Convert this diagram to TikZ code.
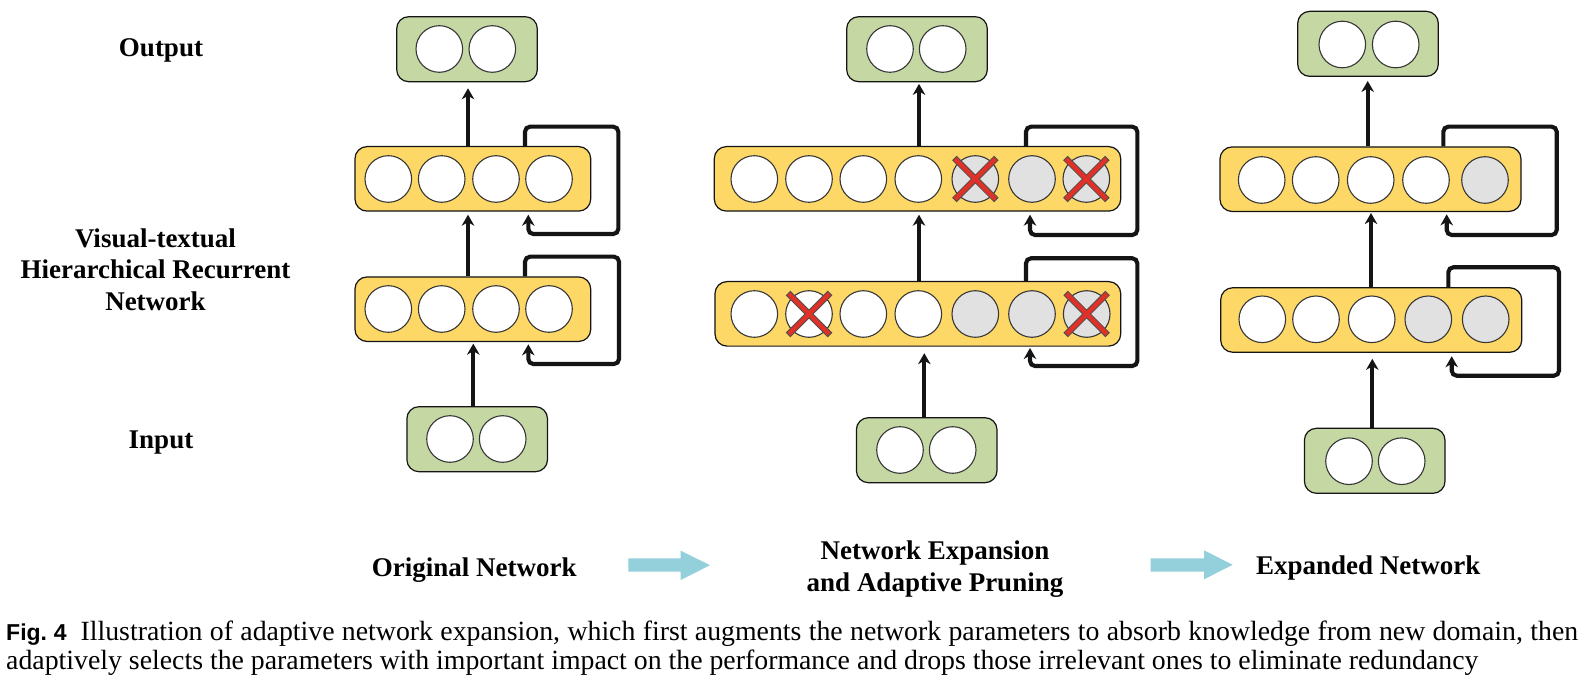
\documentclass[tikz,border=0pt]{standalone}
\usepackage{fontspec}
\setmainfont{Liberation Serif}
\newfontfamily\capsans{Liberation Sans}
\usetikzlibrary{arrows.meta,calc}
\definecolor{ylw}{HTML}{FDD866}
\definecolor{grn}{HTML}{C5D8A4}
\definecolor{gry}{HTML}{E1E1E1}
\definecolor{redx}{HTML}{E03128}
\definecolor{cyn}{HTML}{94CFDC}
\definecolor{ink}{HTML}{141414}
\tikzset{
  hbox/.style={draw=ink, line width=1.2pt, fill=ylw, rounded corners=12pt, minimum height=64.5pt, inner sep=0pt},
  gbox/.style={draw=ink, line width=1.2pt, fill=grn, rounded corners=12pt, minimum width=140.6pt, minimum height=65pt, inner sep=0pt},
  unit/.style={circle, draw=ink!85, line width=1.1pt, fill=white, minimum size=46.6pt, inner sep=0pt},
  unitg/.style={unit, fill=gry},
  flow/.style={draw=ink, line width=4.1pt, -{Stealth[length=11pt,width=12.5pt,inset=3.5pt]}},
  recur/.style={flow, rounded corners=5pt},
  lbl/.style={font=\bfseries\fontsize{27}{31}\selectfont, inner sep=0pt, anchor=base},
  capt/.style={font=\fontsize{27.8}{29}\selectfont, inner sep=0pt, anchor=base west},
  bigarrow/.style={fill=cyn, draw=none},
  xout/.style={line width=6.4pt, draw=ink!75},
  xin/.style={line width=4.4pt, draw=redx}
}
\newcommand{\prunemark}[1]{%
  \draw[xout] ($(#1)+(-21,-21)$) -- ($(#1)+(21,21)$) ($(#1)+(-21,21)$) -- ($(#1)+(21,-21)$);
  \draw[xin] ($(#1)+(-20.2,-20.2)$) -- ($(#1)+(20.2,20.2)$) ($(#1)+(-20.2,20.2)$) -- ($(#1)+(20.2,-20.2)$);}
\begin{document}
\begin{tikzpicture}[x=1pt,y=-1pt]
\useasboundingbox (0,0) rectangle (1581,700);
\fill[white] (0,0) rectangle (1581,700);

% ---------- side labels ----------
\node[lbl] (tout) at (161,57) {Output};
\node[lbl] (tvt1) at (155.5,248) {Visual-textual};
\node[lbl] (tvt2) at (155.5,279) {Hierarchical Recurrent};
\node[lbl] (tvt3) at (155.5,310.5) {Network};
\node[lbl] (tin) at (161,448.5) {Input};

% ---------- left: original network ----------
\node[gbox] (LO) at (467,49.2) {};
\foreach \x [count=\i] in {439.3,492.3} \node[unit] (LOc\i) at (\x,49) {};
\node[hbox, minimum width=235.7pt] (LT) at (472.85,178.85) {};
\foreach \x [count=\i] in {388.3,441.7,496,549} \node[unit] (LTc\i) at (\x,179) {};
\node[hbox, minimum width=235.7pt] (LB) at (472.85,309.2) {};
\foreach \x [count=\i] in {388.3,441.7,496,549} \node[unit] (LBc\i) at (\x,309) {};
\node[gbox] (LI) at (477.2,439.2) {};
\foreach \x [count=\i] in {450,502.7} \node[unit] (LIc\i) at (\x,439) {};

\draw[flow, shorten >=6pt] (468,0 |- LT.north) -- (468,0 |- LO.south);
\draw[flow, shorten >=3pt] (468,0 |- LB.north) -- (468,0 |- LT.south);
\draw[flow, shorten >=1.6pt] (473.3,0 |- LI.north) -- (473.3,0 |- LB.south);
\draw[recur, shorten >=3pt] (525,0 |- LT.north) -- (525,126.7) -- (618.3,126.7) -- (618.3,234) -- (528.3,234) -- (528.3,0 |- LT.south);
\draw[recur, shorten >=2.3pt] (525,0 |- LB.north) -- (525,256.7) -- (619,256.7) -- (619,364) -- (528.3,364) -- (528.3,0 |- LB.south);

% ---------- middle: expansion and pruning ----------
\node[gbox] (MO) at (917,49.2) {};
\foreach \x [count=\i] in {890,942.7} \node[unit] (MOc\i) at (\x,49) {};
\node[hbox, minimum width=406.4pt] (MT) at (917.5,178.85) {};
\foreach \x [count=\i] in {754.3,809,863.3,918.3} \node[unit] (MTc\i) at (\x,179) {};
\foreach \x [count=\i from 5] in {975.3,1032,1086.3} \node[unitg] (MTc\i) at (\x,179) {};
\node[hbox, minimum width=405.7pt] (MB) at (917.85,313.85) {};
\foreach \x [count=\i] in {754.3,809,863.3,918.3} \node[unit] (MBc\i) at (\x,314) {};
\foreach \x [count=\i from 5] in {975.3,1032,1086.7} \node[unitg] (MBc\i) at (\x,314) {};
\node[gbox] (MI) at (926.7,450.2) {};
\foreach \x [count=\i] in {900,952.7} \node[unit] (MIc\i) at (\x,450) {};

\prunemark{MTc5}
\prunemark{MTc7}
\prunemark{MBc2}
\prunemark{MBc7}

\draw[flow, shorten >=1.6pt] (919,0 |- MT.north) -- (919,0 |- MO.south);
\draw[flow, shorten >=3pt] (919,0 |- MB.north) -- (919,0 |- MT.south);
\draw[flow, shorten >=6.5pt] (924.3,0 |- MI.north) -- (924.3,0 |- MB.south);
\draw[recur, shorten >=3pt] (1026,0 |- MT.north) -- (1026,126.7) -- (1137.3,126.7) -- (1137.3,235) -- (1030,235) -- (1030,0 |- MT.south);
\draw[recur, shorten >=1.3pt] (1026,0 |- MB.north) -- (1026,258.3) -- (1137.3,258.3) -- (1137.3,366) -- (1030,366) -- (1030,0 |- MB.south);

% ---------- right: expanded network ----------
\node[gbox] (RO) at (1368,43.85) {};
\foreach \x [count=\i] in {1342.3,1395.7} \node[unit] (ROc\i) at (\x,44.5) {};
\node[hbox, minimum width=301pt] (RT) at (1370.5,179.2) {};
\foreach \x [count=\i] in {1261.7,1315.7,1370.7,1426} \node[unit] (RTc\i) at (\x,180) {};
\node[unitg] (RTc5) at (1485,180) {};
\node[hbox, minimum width=301pt] (RB) at (1371.2,320) {};
\foreach \x [count=\i] in {1262.3,1316,1371.7} \node[unit] (RBc\i) at (\x,319.3) {};
\foreach \x [count=\i from 4] in {1428.3,1485.7} \node[unitg] (RBc\i) at (\x,319.3) {};
\node[gbox] (RI) at (1374.7,460.8) {};
\foreach \x [count=\i] in {1349,1401.7} \node[unit] (RIc\i) at (\x,461.2) {};

\draw[flow, shorten >=4pt] (1367.7,0 |- RT.north) -- (1367.7,0 |- RO.south);
\draw[flow, shorten >=1pt] (1371,0 |- RB.north) -- (1371,0 |- RT.south);
\draw[flow, shorten >=6pt] (1372.3,0 |- RI.north) -- (1372.3,0 |- RB.south);
\draw[recur, shorten >=2.3pt] (1443.3,0 |- RT.north) -- (1443.3,126.7) -- (1556.7,126.7) -- (1556.7,235) -- (1446.7,235) -- (1446.7,0 |- RT.south);
\draw[recur, shorten >=3.4pt] (1448.3,0 |- RB.north) -- (1448.3,267.3) -- (1559,267.3) -- (1559,375.7) -- (1451.7,375.7) -- (1451.7,0 |- RB.south);

% ---------- stage labels and big arrows ----------
\node[lbl] (s1) at (474.2,576.7) {Original Network};
\node[lbl] (s2a) at (935,559) {Network Expansion};
\node[lbl] (s2b) at (935,591) {and Adaptive Pruning};
\node[lbl] (s3) at (1368.3,574.3) {Expanded Network};
\fill[bigarrow] (628.3,558.3) -- (680.7,558.3) -- (680.7,550.7) -- (710,565.2) -- (680.7,580) -- (680.7,571.7) -- (628.3,571.7) -- cycle;
\fill[bigarrow] (1150.7,558.3) -- (1204,558.3) -- (1204,550.3) -- (1232.7,564.8) -- (1204,579.3) -- (1204,571.7) -- (1150.7,571.7) -- cycle;

% ---------- caption ----------
\node[capt] (cap1) at (6,640) {\makebox[1572pt][s]{{\capsans\bfseries\fontsize{23}{29}\selectfont Fig.~4}\hspace{14pt}Illustration of adaptive network expansion, which first augments the network parameters to absorb knowledge from new domain, then}};
\node[capt] (cap2) at (6,669) {adaptively selects the parameters with important impact on the performance and drops those irrelevant ones to eliminate redundancy};
\end{tikzpicture}
\end{document}
